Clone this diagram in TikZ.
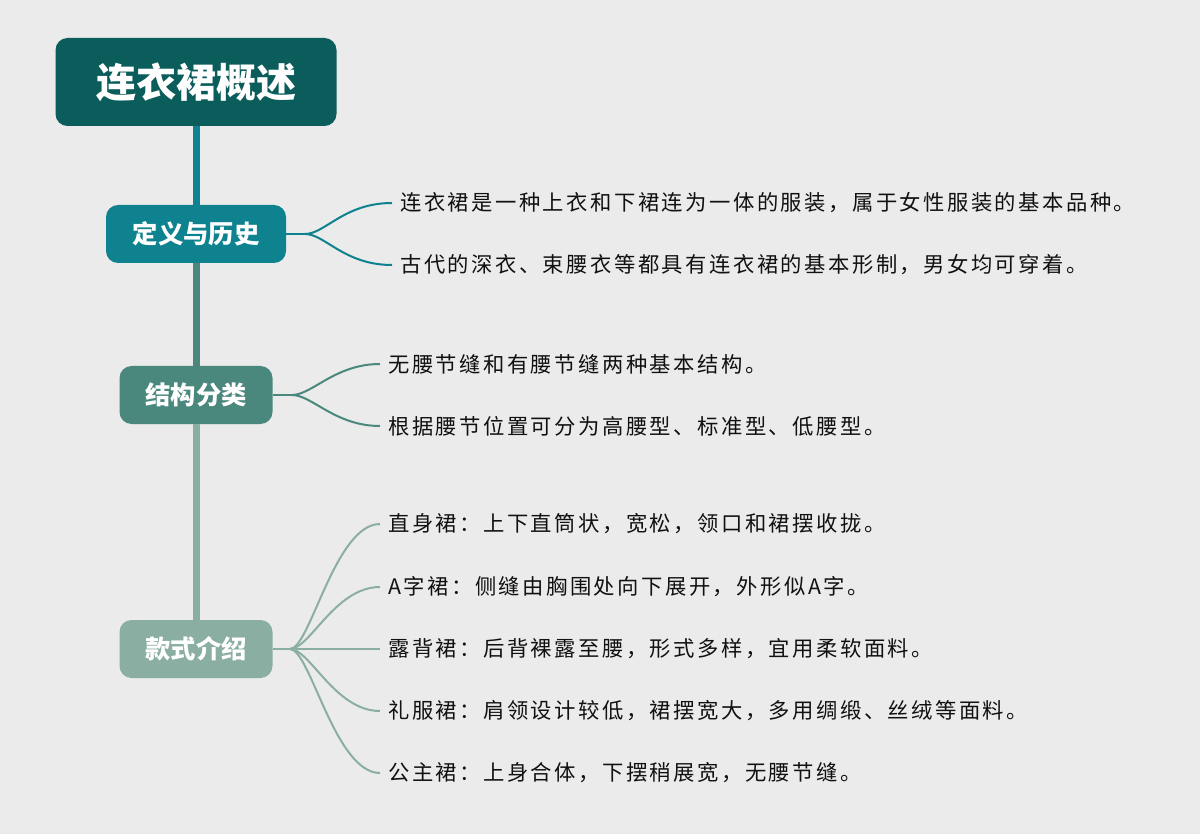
\documentclass[tikz,border=0pt]{standalone}
\usepackage{fontspec}
\setmainfont{Noto Sans CJK SC}
\newfontfamily\cjkleaf[LetterSpace=11.5]{Noto Sans CJK SC}
\usetikzlibrary{calc}
\definecolor{bg}{HTML}{EBEBEB}
\definecolor{ctitle}{HTML}{0B5D5B}
\definecolor{cdef}{HTML}{0E828F}
\definecolor{cstr}{HTML}{4A877D}
\definecolor{csty}{HTML}{8AAFA2}
\definecolor{ctext}{HTML}{111111}
\begin{document}
\begin{tikzpicture}[x=0.75pt,y=-0.75pt,
  box/.style={rounded corners=9pt, inner sep=0pt, text=white, font=\bfseries\fontsize{19}{21}\selectfont, minimum height=43.5pt},
  leaf/.style={anchor=west, inner xsep=6pt, inner ysep=0pt, text=ctext, font=\cjkleaf\fontsize{16}{18}\selectfont},
  trunk/.style={line width=5.25pt},
  twig/.style={line width=1.5pt}]
\fill[bg] (0,0) rectangle (1200,834);
\useasboundingbox (0,0) rectangle (1200,834);
% main nodes
\node[box, fill=ctitle, minimum width=210.75pt, minimum height=66pt, font=\bfseries\fontsize{30}{32}\selectfont] (title) at (196,82) {连衣裙概述};
\node[box, fill=cdef, minimum width=135pt] (def) at (196,234) {定义与历史};
\node[box, fill=cstr, minimum width=114.75pt] (str) at (196,395) {结构分类};
\node[box, fill=csty, minimum width=114.75pt] (sty) at (196,649) {款式介绍};
% trunk
\draw[trunk, cdef] (title.south) -- (def.north);
\draw[trunk, cstr] (def.south) -- (str.north);
\draw[trunk, csty] (str.south) -- (sty.north);
% leaves group 1
\node[leaf] (d1) at (392,203) {连衣裙是一种上衣和下裙连为一体的服装，属于女性服装的基本品种。};
\node[leaf] (d2) at (392,265) {古代的深衣、束腰衣等都具有连衣裙的基本形制，男女均可穿着。};
\coordinate (fd) at (305,234);
\draw[twig, cdef] (def.east) -- (fd);
\draw[twig, cdef] (fd) .. controls +(20,0) and +(-48,0) .. (d1.west);
\draw[twig, cdef] (fd) .. controls +(20,0) and +(-48,0) .. (d2.west);
% leaves group 2
\node[leaf] (s1) at (380,364) {无腰节缝和有腰节缝两种基本结构。};
\node[leaf] (s2) at (380,426) {根据腰节位置可分为高腰型、标准型、低腰型。};
\coordinate (fs) at (292,395);
\draw[twig, cstr] (str.east) -- (fs);
\draw[twig, cstr] (fs) .. controls +(20,0) and +(-45,0) .. (s1.west);
\draw[twig, cstr] (fs) .. controls +(20,0) and +(-45,0) .. (s2.west);
% leaves group 3
\node[leaf] (k1) at (380,524) {直身裙：上下直筒状，宽松，领口和裙摆收拢。};
\node[leaf] (k2) at (380,587) {A字裙：侧缝由胸围处向下展开，外形似A字。};
\node[leaf] (k3) at (380,649) {露背裙：后背裸露至腰，形式多样，宜用柔软面料。};
\node[leaf] (k4) at (380,711) {礼服裙：肩领设计较低，裙摆宽大，多用绸缎、丝绒等面料。};
\node[leaf] (k5) at (380,773) {公主裙：上身合体，下摆稍展宽，无腰节缝。};
\coordinate (fk) at (290,649);
\draw[twig, csty] (sty.east) -- (fk);
\draw[twig, csty] (fk) .. controls +(20,0) and +(-45,0) .. (k1.west);
\draw[twig, csty] (fk) .. controls +(20,0) and +(-45,0) .. (k2.west);
\draw[twig, csty] (fk) -- (k3.west);
\draw[twig, csty] (fk) .. controls +(20,0) and +(-45,0) .. (k4.west);
\draw[twig, csty] (fk) .. controls +(20,0) and +(-45,0) .. (k5.west);
\end{tikzpicture}
\end{document}
